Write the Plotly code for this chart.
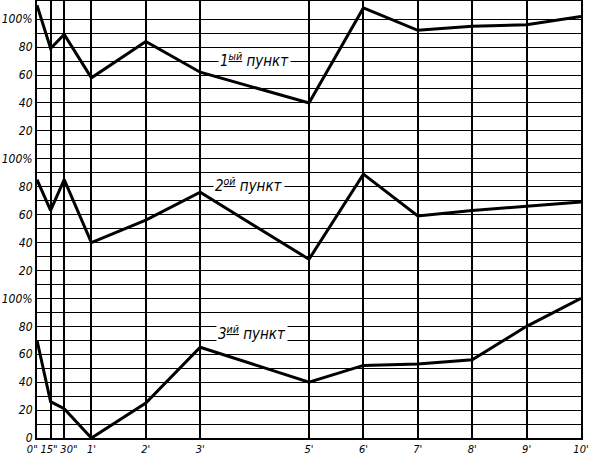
import plotly.graph_objects as go

# time in minutes
time_min = [0, 0.25, 0.5, 1, 2, 3, 5, 6, 7, 8, 9, 10]
x_tick_labels = ['0"\u00a0\u00a0\u00a0', '15"\u00a0', '\u00a0\u00a0\u00a030"', "1'", "2'", "3'", "5'", "6'", "7'", "8'", "9'", "10'"]

# percent values for each point
punkt1 = [110, 79, 89, 58, 84, 62, 40, 108, 92, 95, 96, 102]
punkt2 = [85, 63, 85, 40, 56, 76, 28, 89, 59, 63, 66, 69]
punkt3 = [70, 26, 21, 0, 25, 65, 40, 52, 53, 56, 80, 100]

panel_labels = ["1<sup><u>ый</u></sup> пункт", "2<sup><u>ой</u></sup> пункт", "3<sup><u>ий</u></sup> пункт"]
panel_offsets = [200, 100, 0]
panel_series = [punkt1, punkt2, punkt3]
label_pos = [(4.0, 271), (3.9, 181), (3.95, 75)]

y_tickvals = list(range(0, 301, 20))
y_ticktext = []
for v in y_tickvals:
    if v == 0:
        y_ticktext.append("0")
    elif v % 100 == 0:
        y_ticktext.append("100%")
    else:
        y_ticktext.append(str(v % 100))
y_minor = list(range(10, 301, 20))

FONT = "DejaVu Sans Condensed, DejaVu Sans"

fig = go.Figure()
for vals, off in zip(panel_series, panel_offsets):
    fig.add_trace(go.Scatter(
        x=time_min, y=[v + off for v in vals], mode="lines",
        line=dict(color="black", width=3), cliponaxis=False, showlegend=False,
        hoverinfo="skip"))

for (lx, ly), txt in zip(label_pos, panel_labels):
    fig.add_annotation(x=lx, y=ly, text=txt, showarrow=False,
                       font=dict(family=FONT, size=15, color="black", style="italic"),
                       bgcolor="white")

fig.update_xaxes(range=[0, 10], tickvals=time_min, ticktext=x_tick_labels,
                 tickangle=0, automargin=False,
                 showgrid=True, gridcolor="black", gridwidth=1.5,
                 showline=True, linecolor="black", linewidth=2, mirror=True,
                 zeroline=False, ticks="",
                 tickfont=dict(family=FONT, size=11, color="black", style="italic"))
fig.update_yaxes(range=[0, 313], tickvals=y_tickvals, ticktext=y_ticktext,
                 automargin=False,
                 showgrid=True, gridcolor="black", gridwidth=1.2,
                 minor=dict(tickmode="array", tickvals=y_minor, showgrid=True,
                            gridcolor="black", gridwidth=1.2, ticks=""),
                 showline=True, linecolor="black", linewidth=2, mirror=True,
                 zeroline=False, ticks="",
                 tickfont=dict(family=FONT, size=12, color="black", style="italic"))

fig.update_layout(width=611, height=462, margin=dict(l=37, r=30, t=1, b=24),
                  paper_bgcolor="white", plot_bgcolor="white")
fig.write_html("out.html", config={"displayModeBar": False},
               post_script="document.body.style.margin='0';document.body.style.overflow='hidden';")
